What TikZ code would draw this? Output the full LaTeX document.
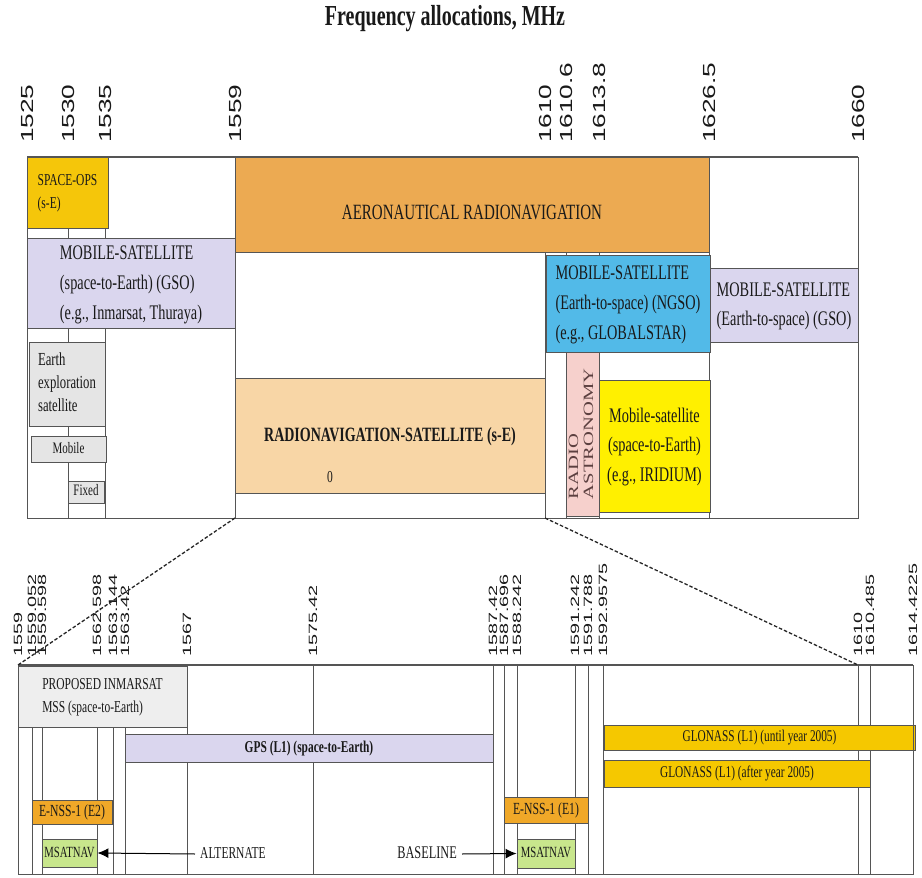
\documentclass[tikz,border=0pt]{standalone}
\usepackage{fontspec}
\setmainfont{Liberation Serif}
\setsansfont{Liberation Sans}
\usepackage{graphicx}
\usetikzlibrary{arrows.meta,positioning}
\definecolor{opsy}{RGB}{245,198,10}
\definecolor{aero}{RGB}{236,170,82}
\definecolor{lav}{RGB}{218,214,238}
\definecolor{rns}{RGB}{248,214,166}
\definecolor{gsky}{RGB}{82,186,232}
\definecolor{rapink}{RGB}{246,208,204}
\definecolor{iri}{RGB}{255,240,0}
\definecolor{eesg}{RGB}{229,229,229}
\definecolor{inmg}{RGB}{238,238,238}
\definecolor{enss}{RGB}{240,168,40}
\definecolor{msat}{RGB}{200,230,140}
\definecolor{glo}{RGB}{245,200,0}
\definecolor{frm}{RGB}{85,85,85}
\definecolor{txt}{RGB}{25,25,25}
\newcommand{\tall}[2][l]{\scalebox{1}[1.45]{\begin{tabular}{@{}#1@{}}#2\end{tabular}}}
\newcommand{\wide}[2][l]{\scalebox{1.45}[1]{\begin{tabular}{@{}#1@{}}#2\end{tabular}}}

\begin{document}
\begin{tikzpicture}[x=1pt, y=-1pt,
  band/.style={draw=frm, line width=0.9pt, inner sep=0pt, text=txt, font=\fontsize{14.3}{20.5}\selectfont},
  sband/.style={band, font=\fontsize{11.5}{16}\selectfont},
  grid/.style={draw=frm, line width=0.7pt},
  frame/.style={draw=frm, line width=1pt},
  toplab/.style={rotate=90, anchor=west, inner sep=0pt, text=txt, font=\sffamily\fontsize{17.5}{18}\selectfont},
  botlab/.style={rotate=90, anchor=west, inner sep=0pt, text=txt, font=\sffamily\fontsize{12}{12}\selectfont},
  note/.style={inner sep=0pt, text=txt, font=\fontsize{11.5}{14}\selectfont},
  zoomline/.style={dash pattern=on 3.5pt off 2pt, line width=1.3pt, draw=black!85},
  arrow/.style={-{Latex[length=11pt,width=10pt]}, line width=1pt}
]
\useasboundingbox (0,0) rectangle (922,878);
\node[text=txt, font=\bfseries\fontsize{20}{24}\selectfont] (title) at (445,19) {\tall{Frequency allocations, MHz}};

% upper band plan
\foreach \f/\x [count=\i] in {1525/27, 1530/68, 1535/105, 1559/235, 1610/545, 1610.6/566, 1613.8/599, 1626.5/709, 1660/858}{
  \draw[grid] (\x,157) -- (\x,518);
  \node[toplab] (tl\i) at (\x,143) {\scalebox{1.5}[1]{\f}};
}
\node[sband, fill=opsy, minimum width=81, minimum height=71] (ops) at (67.5,192.5) {\tall{SPACE-OPS\\(s-E)}};
\node[band, fill=lav, minimum width=208, minimum height=87] (mssL) at (131,283.5) {\tall{MOBILE-SATELLITE\\(space-to-Earth) (GSO)\\(e.g., Inmarsat, Thuraya)}};
\node[band, fill=eesg, minimum width=76, minimum height=84, font=\fontsize{12.7}{16}\selectfont] (eess) at (67,384) {\tall{Earth\\exploration\\satellite}};
\node[sband, fill=eesg, minimum width=75, minimum height=26, font=\fontsize{11}{15}\selectfont] (mob) at (68.5,449) {\tall{Mobile}};
\node[sband, fill=eesg, minimum width=36, minimum height=22, font=\fontsize{11}{13}\selectfont] (fixd) at (86,492) {\tall{Fixed}};
\node[band, fill=aero, minimum width=474, minimum height=95, font=\fontsize{15}{20}\selectfont] (aero) at (472,204.5) {\raisebox{-9pt}[\height][\depth]{\tall{AERONAUTICAL RADIONAVIGATION}}};
\node[band, fill=rns, minimum width=310, minimum height=115, font=\bfseries\fontsize{14}{20}\selectfont] (rns) at (390,435.5) {\tall{RADIONAVIGATION-SATELLITE (s-E)}};
\node[note] (zero) at (330,478) {\tall{0}};
\node[band, fill=gsky, minimum width=164, minimum height=97] (gstar) at (628,303.5) {\tall{MOBILE-SATELLITE\\(Earth-to-space) (NGSO)\\(e.g., GLOBALSTAR)}};
\node[band, fill=lav, minimum width=148, minimum height=74] (mssR) at (784,305) {\tall{MOBILE-SATELLITE\\(Earth-to-space) (GSO)}};
\node[band, fill=rapink, rotate=90, minimum width=164, minimum height=33, text={rgb,255:red,92;green,64;blue,64}, font=\fontsize{14.2}{15}\selectfont] (radio) at (582.5,434) {\wide{RADIO\\ASTRONOMY}};
\node[band, fill=iri, minimum width=111, minimum height=132] (iri) at (654.5,446) {\tall[c]{Mobile-satellite\\(space-to-Earth)\\(e.g., IRIDIUM)}};
\draw[frame] (27,157) rectangle (858,518);
\draw[frm, line width=2pt] (27,157) -- (858,157);

% lower band plan (GNSS detail)
\foreach \f/\x [count=\i] in {1559/18, 1559.052/32, 1559.598/42, 1562.598/97, 1563.144/113, 1563.42/125, 1567/187, 1575.42/313, 1587.42/493, 1587.696/504, 1588.242/517, 1591.242/575, 1591.788/588, 1592.9575/603, 1610/858, 1610.485/870, 1614.4225/913}{
  \draw[grid] (\x,665) -- (\x,874);
  \node[botlab] (bl\i) at (\x,657) {\scalebox{1.65}[1]{\f}};
}
\node[sband, fill=inmg, minimum width=169, minimum height=61] (inm) at (102.5,696.5) {\tall{PROPOSED INMARSAT\\MSS (space-to-Earth)}};
\node[sband, fill=lav, minimum width=368, minimum height=28, font=\bfseries\fontsize{11.4}{14}\selectfont] (gps) at (309,748) {\tall{GPS (L1) (space-to-Earth)}};
\node[sband, fill=enss, minimum width=80, minimum height=24, font=\fontsize{11.7}{14}\selectfont] (enssB) at (72,812) {\tall{E-NSS-1 (E2)}};
\node[sband, fill=msat, minimum width=55, minimum height=28, font=\fontsize{10.7}{14}\selectfont] (msatL) at (69.5,853) {\tall{MSATNAV}};
\node[sband, fill=enss, minimum width=84, minimum height=26, font=\fontsize{11.7}{14}\selectfont] (enssA) at (546,810) {\tall{E-NSS-1 (E1)}};
\node[sband, fill=msat, minimum width=58, minimum height=29, font=\fontsize{10.7}{14}\selectfont] (msatR) at (546,853.5) {\tall{MSATNAV}};
\node[sband, fill=glo, minimum width=311, minimum height=25, font=\fontsize{11.3}{14}\selectfont] (gloA) at (759.5,737.5) {\tall{GLONASS (L1) (until year 2005)}};
\node[sband, fill=glo, minimum width=266, minimum height=27, font=\fontsize{11.3}{14}\selectfont] (gloB) at (737,773.5) {\tall{GLONASS (L1) (after year 2005)}};
\node[note, anchor=west] (alt) at (200,854) {\tall{ALTERNATE}};
\node[note, anchor=east, font=\fontsize{12.3}{14}\selectfont] (base) at (457,854) {\tall{BASELINE}};
\draw[frame] (18,665) rectangle (913,874);
\draw[frm, line width=2pt] (18,665) -- (913,665);

% pointers to the MSATNAV options
\draw[arrow] ([xshift=-5pt]alt.west) -- (msatL.east);
\draw[arrow] ([xshift=5pt]base.east) -- (msatR.west);

% zoom lines between the two plans
\coordinate (zlt) at (235,518);
\coordinate (zlb) at (18,665);
\coordinate (zrt) at (545,518);
\coordinate (zrb) at (858,665);
\draw[zoomline] (zlt) -- (zlb);
\draw[zoomline] (zrt) -- (zrb);
\end{tikzpicture}
\end{document}
